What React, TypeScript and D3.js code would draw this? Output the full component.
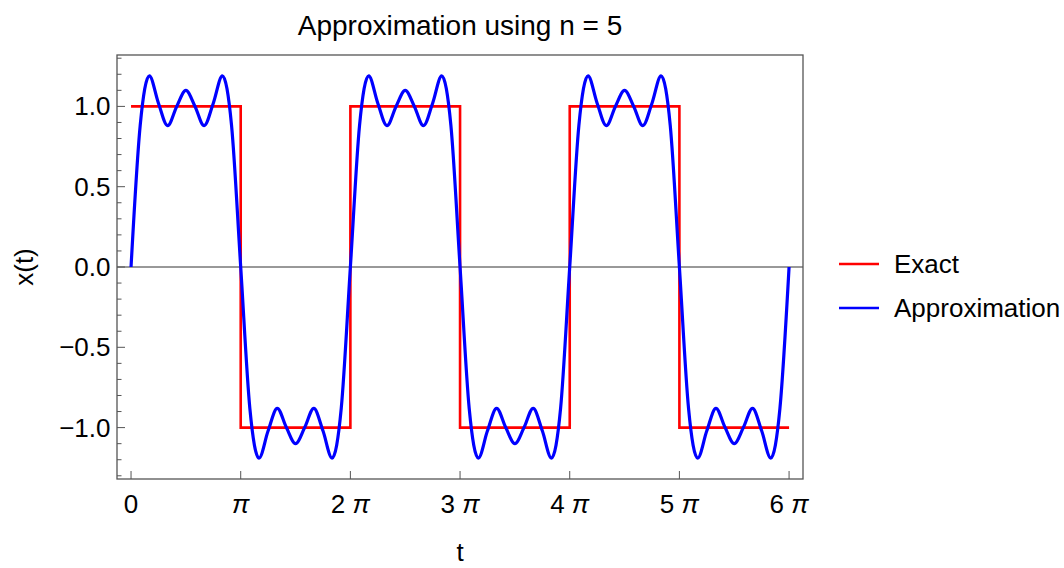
import React from "react";
import { scaleLinear, line, curveStepAfter, curveMonotoneX, range } from "d3";

// Exact square wave: level held from each breakpoint (multiples of pi)
const exactBreaks = [0, 1, 2, 3, 4, 5, 6];
const exactLevels = [1, -1, 1, -1, 1, -1, -1];

// Approximation, one value every pi/12 from 0 to 6 pi
const approxValues = [
  0, 0.88, 1.19, 1.02, 0.88, 1.0, 1.1, 1.0, 0.88, 1.02, 1.19, 0.88,
  0, -0.88, -1.19, -1.02, -0.88, -1.0, -1.1, -1.0, -0.88, -1.02, -1.19, -0.88,
  0, 0.88, 1.19, 1.02, 0.88, 1.0, 1.1, 1.0, 0.88, 1.02, 1.19, 0.88,
  0, -0.88, -1.19, -1.02, -0.88, -1.0, -1.1, -1.0, -0.88, -1.02, -1.19, -0.88,
  0, 0.88, 1.19, 1.02, 0.88, 1.0, 1.1, 1.0, 0.88, 1.02, 1.19, 0.88,
  0, -0.88, -1.19, -1.02, -0.88, -1.0, -1.1, -1.0, -0.88, -1.02, -1.19, -0.88,
  0,
];

const xTicks = [0, 1, 2, 3, 4, 5, 6];
const xTickLabels = ["0", "π", "2 π", "3 π", "4 π", "5 π", "6 π"];
const yTicks = [-1, -0.5, 0, 0.5, 1];
const yTickLabels = ["−1.0", "−0.5", "0.0", "0.5", "1.0"];

const legendItems = [
  { label: "Exact", color: "#ff0000" },
  { label: "Approximation", color: "#0000ff" },
];

const PI = Math.PI;
const font = "'Liberation Sans', Arial, sans-serif";

const App: React.FC = () => {
  const left = 117;
  const right = 803;
  const top = 55;
  const bottom = 479;

  const x = scaleLinear().domain([-0.128 * PI, 6.127 * PI]).range([left, right]);
  const y = scaleLinear().domain([-1.32, 1.32]).range([bottom, top]);

  const exactPath = line<number>()
    .x((d) => x(d * PI))
    .y((_, i) => y(exactLevels[i]))
    .curve(curveStepAfter)(exactBreaks);

  const approxPath = line<number>()
    .x((_, i) => x((i * PI) / 12))
    .y((d) => y(d))
    .curve(curveMonotoneX)(approxValues);

  const minorY = range(-13, 14).map((k) => k / 10);

  return (
    <svg width={1064} height={568} style={{ position: "absolute", left: 0, top: 0 }} fontFamily={font}>
      <rect width={1064} height={568} fill="white" />

      {/* Titulo */}
      <text x={(left + right) / 2} y={35} textAnchor="middle" fontSize={28} fill="#000">
        Approximation using n = 5
      </text>

      {/* Linea del cero */}
      <line x1={left} x2={right} y1={y(0)} y2={y(0)} stroke="#333" strokeWidth={1} />

      {/* Series */}
      <path d={exactPath ?? ""} fill="none" stroke="#ff0000" strokeWidth={2.6} />
      <path d={approxPath ?? ""} fill="none" stroke="#0000ff" strokeWidth={3.2} strokeLinejoin="round" />

      {/* Marco */}
      <rect x={left} y={top} width={right - left} height={bottom - top} fill="none" stroke="#555" strokeWidth={1.3} />

      {/* Eje Y */}
      {minorY.map((v, i) => {
        const major = Math.abs(v * 2 - Math.round(v * 2)) < 1e-6;
        return (
          <line key={i} x1={left} x2={left + (major ? 8 : 4.5)} y1={y(v)} y2={y(v)} stroke="#555" strokeWidth={1} />
        );
      })}
      {yTicks.map((v, i) => (
        <text key={i} x={left - 6.5} y={y(v)} dy="0.35em" textAnchor="end" fontSize={26} fill="#000">
          {yTickLabels[i]}
        </text>
      ))}

      {/* Eje X */}
      {xTicks.map((v, i) => (
        <g key={i}>
          <line x1={x(v * PI)} x2={x(v * PI)} y1={bottom} y2={bottom - 8} stroke="#555" strokeWidth={1} />
          <text x={x(v * PI)} y={513} textAnchor="middle" fontSize={26} fill="#000">
            {xTickLabels[i].split("π").map((part, j, arr) => (
              <React.Fragment key={j}>
                {part}
                {j < arr.length - 1 && <tspan fontStyle="italic">π</tspan>}
              </React.Fragment>
            ))}
          </text>
        </g>
      ))}

      {/* Etiquetas de ejes */}
      <text x={(left + right) / 2} y={561} textAnchor="middle" fontSize={26} fill="#000">
        t
      </text>
      <text transform={`translate(33, ${y(0)}) rotate(-90)`} textAnchor="middle" fontSize={26} fill="#000">
        x(t)
      </text>

      {/* Leyenda */}
      {legendItems.map((d, i) => (
        <g key={i} transform={`translate(0, ${264 + i * 44})`}>
          <line x1={839} x2={879} y1={0} y2={0} stroke={d.color} strokeWidth={2.6} />
          <text x={894} y={0} dy="0.35em" fontSize={26} fill="#000">
            {d.label}
          </text>
        </g>
      ))}
    </svg>
  );
};

export default App;
